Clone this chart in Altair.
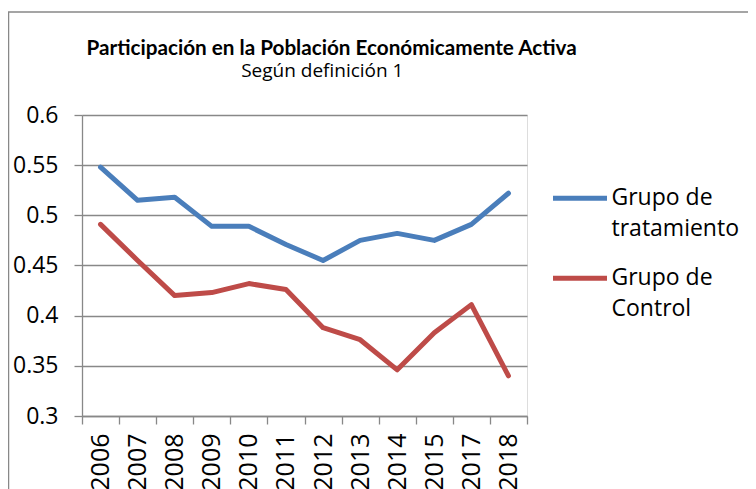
import altair as alt
import pandas as pd

years = ["2006", "2007", "2008", "2009", "2010", "2011", "2012", "2013", "2014", "2015", "2017", "2018"]
tratamiento = [0.548, 0.515, 0.518, 0.489, 0.489, 0.471, 0.455, 0.475, 0.482, 0.475, 0.491, 0.522]
control = [0.491, 0.455, 0.420, 0.423, 0.432, 0.426, 0.388, 0.376, 0.346, 0.383, 0.411, 0.340]
series = ["Grupo de tratamiento", "Grupo de Control"]
colors = ["#4A7EBB", "#BE4B48"]
y_ticks = [0.3, 0.35, 0.4, 0.45, 0.5, 0.55, 0.6]
title_text = "Participación en la Población Económicamente Activa"
subtitle_text = "Según definición 1"

df = pd.DataFrame({
    "Año": years + years,
    "valor": tratamiento + control,
    "grupo": [series[0]] * len(years) + [series[1]] * len(years),
})

GRAY = "#888888"
FONT = "Open Sans"
one = pd.DataFrame({"k": [0]})

frame = alt.Chart(one).mark_rect(
    fillOpacity=0, stroke=GRAY, strokeWidth=1.5
).encode(
    x=alt.value(-73.5), x2=alt.value(900), y=alt.value(-103), y2=alt.value(600)
)

title = alt.Chart(one).mark_text(
    font="Lato", fontSize=20.7, fontWeight="bold", color="black", align="center", baseline="alphabetic"
).encode(x=alt.value(249.6), y=alt.value(-60), text=alt.value(title_text))

subtitle = alt.Chart(one).mark_text(
    font=FONT, fontSize=19, color="black", align="center", baseline="alphabetic"
).encode(x=alt.value(240.3), y=alt.value(-38.3), text=alt.value(subtitle_text))

lines = alt.Chart(df).mark_line(strokeWidth=5, strokeCap="round", strokeJoin="round").encode(
    x=alt.X(
        "Año:O",
        sort=years,
        bandPosition=0.5,
        scale=alt.Scale(type="band", paddingInner=0, paddingOuter=0),
        axis=alt.Axis(
            title=None, grid=False, labelAngle=-90, labelFont=FONT, labelFontSize=25,
            labelColor="black", labelPadding=9, tickSize=8, tickColor=GRAY, domainColor=GRAY,
            tickBand="extent", tickWidth=1.3, domainWidth=1.3,
        ),
    ),
    y=alt.Y(
        "valor:Q",
        scale=alt.Scale(domain=[0.3, 0.6], nice=False, zero=False),
        axis=alt.Axis(
            title=None, values=y_ticks, format=".2~f", grid=True, gridColor=GRAY, gridWidth=1.3,
            labelFont=FONT, labelFontSize=23, labelColor="black", labelPadding=16,
            tickSize=8, tickColor=GRAY, domainColor=GRAY, tickWidth=1.3, domainWidth=1.3,
        ),
    ),
    color=alt.Color(
        "grupo:N",
        sort=series,
        scale=alt.Scale(domain=series, range=colors),
        legend=alt.Legend(
            title=None, orient="none", legendX=468.5, legendY=53.7,
            symbolType="stroke", symbolSize=2916, symbolStrokeWidth=5,
            labelFont=FONT, labelFontSize=23, labelColor="black", labelOffset=2,
            labelLimit=400, rowPadding=7,
            labelExpr="split(replace(datum.label, 'de ', 'de|'), '|')",
        ),
    ),
)

chart = alt.layer(frame, title, subtitle, lines).properties(
    width=445,
    height=301,
    autosize=alt.AutoSizeParams(type="none"),
    padding={"left": 74, "top": 107, "right": 221, "bottom": 73},
).configure_view(stroke=None).configure(
    style={"guide-label": {"lineHeight": 31}}
)

chart.save("out.html", embed_options={"renderer": "svg", "actions": False})
